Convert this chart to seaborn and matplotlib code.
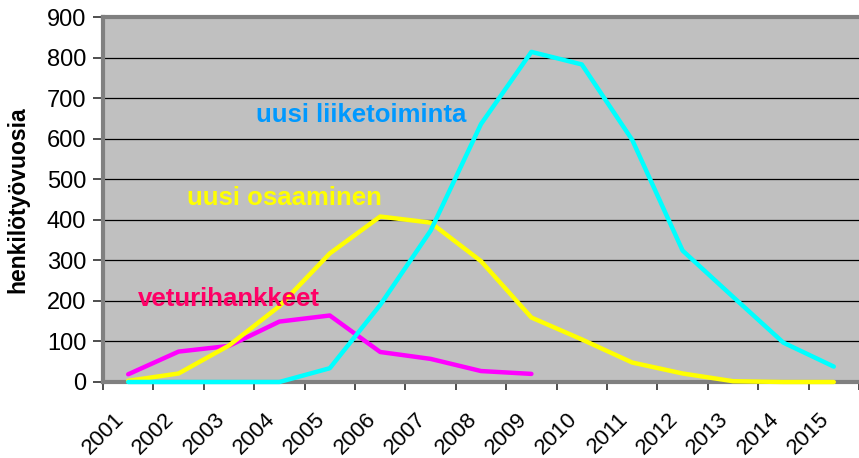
import numpy as np
import pandas as pd
import matplotlib
matplotlib.use("Agg")
import matplotlib.pyplot as plt
import seaborn as sns

# data
years = list(range(2001, 2016))
veturihankkeet = [19, 75, 89, 149, 164, 74, 57, 27, 20]          # 2001-2009
uusi_osaaminen = [3, 21, 90, 187, 317, 408, 393, 298, 159, 105, 48, 21, 2, 0, 0]
uusi_liiketoiminta = [0, 0, 0, 0, 34, 190, 373, 636, 814, 783, 597, 324, 210, 97, 38]

series_names = ["veturihankkeet", "uusi osaaminen", "uusi liiketoiminta"]
line_colors = ["#FF00FF", "#FFFF00", "#00FFFF"]
label_colors = ["#FF0066", "#FFFF00", "#0099FF"]

rows = []
for name, vals in zip(series_names, [veturihankkeet, uusi_osaaminen, uusi_liiketoiminta]):
    for yr, v in zip(years, vals):
        rows.append({"series": name, "year": yr, "value": v})
df = pd.DataFrame(rows)
# category centred between tick marks (Excel style)
df["pos"] = df["year"] - years[0] + 0.5

plt.rcParams["font.family"] = ["Liberation Sans", "DejaVu Sans"]

fig = plt.figure(figsize=(8.59, 4.58), dpi=100)
W, H = 859, 458
ax = fig.add_axes([103 / W, (H - 382) / H, (859 - 103) / W, (382 - 17) / H])
ax.set_facecolor("#C0C0C0")

sns.lineplot(data=df, x="pos", y="value", hue="series", hue_order=series_names,
             palette=line_colors, linewidth=3.2, legend=False, ax=ax,
             solid_capstyle="round", zorder=3, clip_on=False)

ax.set_xlim(0, (859 - 103) / 51.1)
ax.set_ylim(0, 900)
ax.set_yticks(range(0, 901, 100))
ax.yaxis.grid(True, color="black", linewidth=0.9)
ax.set_axisbelow(True)

ax.set_xticks(np.arange(0, len(years) + 1))
ax.set_xticklabels([])
ax.set_xticks(np.arange(len(years)) + 0.5, minor=True)
ax.set_xticklabels([str(y) for y in years], minor=True, rotation=45,
                   ha="right", va="top")
ax.tick_params(axis="x", which="major", length=6, width=1.2, color="#303030",
               direction="out")
ax.tick_params(axis="x", which="minor", length=0, pad=19.5, labelsize=16)
ax.tick_params(axis="y", length=7, width=1.2, color="#303030", labelsize=17,
               pad=5)

ax.set_xlabel("")
ax.set_ylabel("henkilötyövuosia", fontsize=16.5, fontweight="bold", va="center")
ax.yaxis.set_label_coords(-0.112, 0.5)

for side in ["left", "top", "bottom"]:
    ax.spines[side].set_color("#808080")
    ax.spines[side].set_linewidth(3)
ax.spines["right"].set_visible(False)

# series labels inside the plot
ax.text(5.12, 642, "uusi liiketoiminta", color=label_colors[2], fontsize=18.5,
        fontweight="bold", ha="center", va="baseline")
ax.text(3.6, 436, "uusi osaaminen", color=label_colors[1], fontsize=18.5,
        fontweight="bold", ha="center", va="baseline")
ax.text(2.5, 187, "veturihankkeet", color=label_colors[0], fontsize=18.5,
        fontweight="bold", ha="center", va="baseline")

fig.savefig("out.png", dpi=100)
